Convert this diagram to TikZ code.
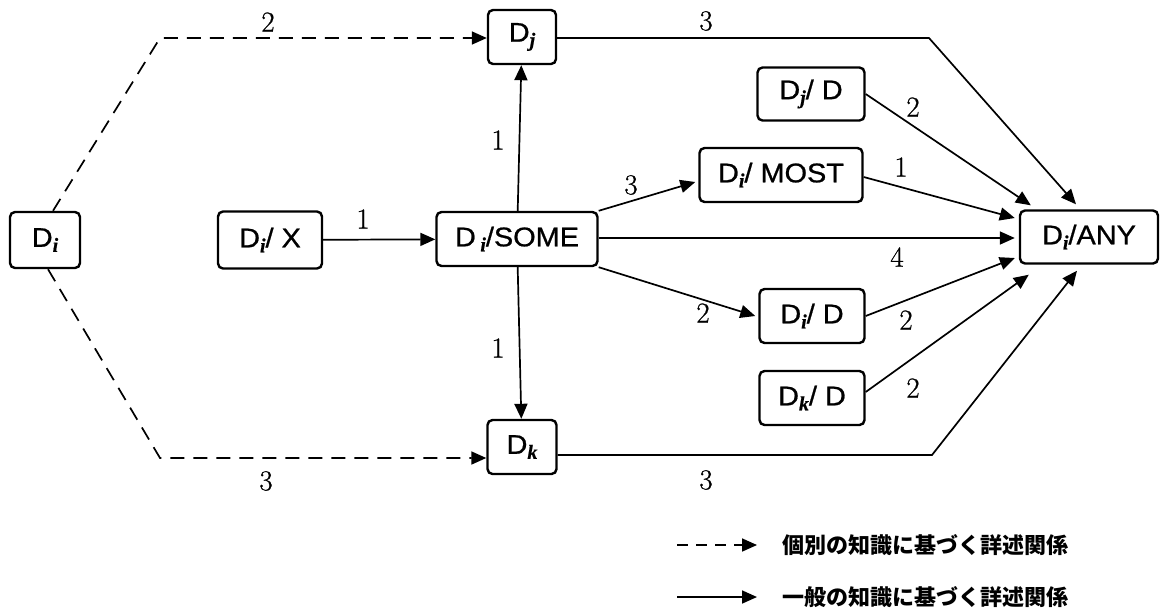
\documentclass[tikz,border=0pt]{standalone}
\usepackage{fontspec}
\usetikzlibrary{arrows.meta,calc}
\newfontfamily\boxfont[FakeStretch=1.07,FakeBold=0.8]{Liberation Sans}
\newfontfamily\subfont[FakeBold=0.6]{Liberation Serif}
\newfontfamily\numfont[FakeBold=0.7]{Latin Modern Roman}
\newfontfamily\jpfont{Noto Sans CJK JP}
\newcommand{\sbs}[1]{\raisebox{-5pt}{\subfont\bfseries\itshape\fontsize{20}{20}\selectfont #1}}
\begin{document}
\begin{tikzpicture}[x=1pt,y=-1pt,
  box/.style={draw,line width=2.4pt,rounded corners=5pt,inner sep=0pt,
    font=\boxfont\fontsize{27}{27}\selectfont},
  conn/.style={line width=1.7pt},
  arr/.style={conn,-{Triangle[length=15pt,width=13pt]}},
  darr/.style={arr,dash pattern=on 14pt off 9pt},
  num/.style={font=\numfont\fontsize{29}{29}\selectfont,inner sep=0pt},
  jp/.style={font=\jpfont\bfseries\fontsize{22}{22}\selectfont,anchor=west,inner sep=0pt}]
\useasboundingbox (0,0) rectangle (1161,614);

% nodes
\node[box,minimum width=70pt,minimum height=56pt] (di) at (45,240) {D\sbs{i}};
\node[box,minimum width=104pt,minimum height=57pt] (dx) at (270,240) {D\sbs{i}/ X};
\node[box,minimum width=161pt,minimum height=54pt] (some) at (517,239) {D\,\sbs{i}/SOME};
\node[box,minimum width=68pt,minimum height=54pt] (dj) at (522,37) {D\sbs{j}};
\node[box,minimum width=69pt,minimum height=54pt] (dk) at (522,447) {D\sbs{k}};
\node[box,minimum width=107pt,minimum height=53pt] (djd) at (811,94) {D\sbs{j}/ D};
\node[box,minimum width=163pt,minimum height=54pt] (most) at (781,175) {D\sbs{i}/ MOST};
\node[box,minimum width=138pt,minimum height=53pt] (any) at (1089,237) {D\sbs{i}/ANY};
\node[box,minimum width=105pt,minimum height=54pt] (did) at (812,316) {D\sbs{i}/ D};
\node[box,minimum width=105pt,minimum height=54pt] (dkd) at (812,398) {D\sbs{k}/ D};

% dashed (individual knowledge)
\draw[darr] ($(di.north)+(8,0)$) -- (160,38) -- (dj.west |- 0,38);
\draw[darr] ($(di.south)+(3,0)$) -- (160,458) -- (dk.west |- 0,458);

% solid (general knowledge)
\draw[arr] (dx) -- (some);
\draw[arr] (some) -- (dj);
\draw[arr] (some) -- (dk);
\draw[arr] (some.north east) -- ($(most.west)+(-3,7)$);
\draw[arr] (some.south east) -- ($(did.west)+(-3,0)$);
\draw[arr] (some.east |- 0,238) -- ($(any.west |- 0,238)+(-4,0)$);
\draw[arr] (dj.east |- 0,38) -- (929,38) -- ($(any.north)+(-13,-5)$);
\draw[arr] (dk.east |- 0,455) -- (932,455) -- ($(any.south)+(-12,6)$);
\draw[arr] (djd.east) -- ($(any.north west)+(12,-4)$);
\draw[arr] ($(most.east)+(0,2)$) -- ($(any.west)+(-4,-19)$);
\draw[arr] (did.east) -- ($(any.west)+(-4,21)$);
\draw[arr] ($(dkd.east)+(0,-6)$) -- ($(any.south west)+(10,10)$);

% labels
\node[num] (l1) at (268,22) {2};
\node[num] (l2) at (266,481) {3};
\node[num] (l3) at (706,21) {3};
\node[num] (l4) at (706,480) {3};
\node[num] (l5) at (363,219) {1};
\node[num] (l6) at (498,140) {1};
\node[num] (l7) at (498,348) {1};
\node[num] (l8) at (631,185) {3};
\node[num] (l9) at (703,313) {2};
\node[num] (l10) at (901,167) {1};
\node[num] (l11) at (897,257) {4};
\node[num] (l12) at (913,107) {2};
\node[num] (l13) at (906,320) {2};
\node[num] (l14) at (913,388) {2};

% legend
\coordinate (la1) at (677,545);
\coordinate (lb1) at (757,545);
\coordinate (la2) at (677,597);
\coordinate (lb2) at (757,597);
\draw[darr,dash pattern=on 11pt off 8pt] (la1) -- (lb1);
\draw[arr] (la2) -- (lb2);
\node[jp] (t1) at (782,545) {個別の知識に基づく詳述関係};
\node[jp] (t2) at (782,597) {一般の知識に基づく詳述関係};
\end{tikzpicture}
\end{document}
